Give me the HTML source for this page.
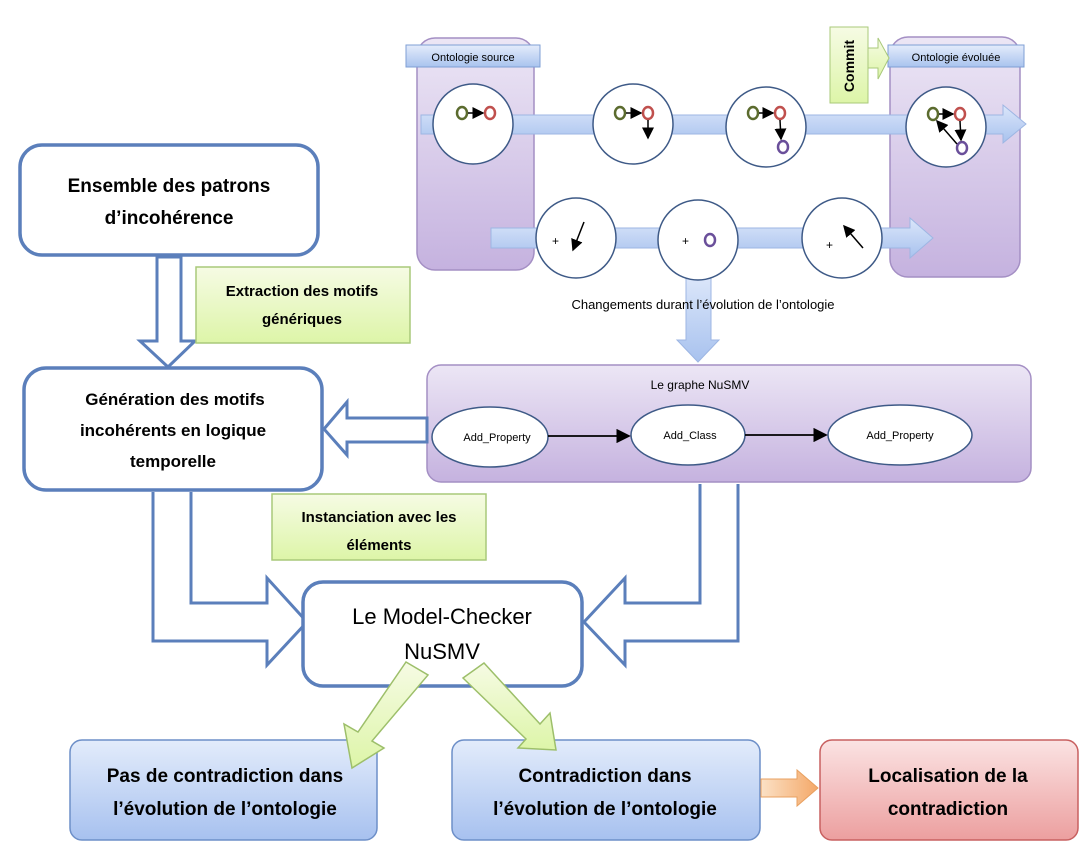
<!DOCTYPE html>
<html><head><meta charset="utf-8"><style>
html,body{margin:0;padding:0;background:#fff;}
svg{display:block;font-family:"Liberation Sans",sans-serif;}
.b{font-weight:bold;}
</style></head><body>
<svg width="1086" height="856" viewBox="0 0 1086 856" xmlns="http://www.w3.org/2000/svg">
<defs>
<linearGradient id="pur" x1="0" y1="0" x2="0" y2="1"><stop offset="0" stop-color="#ece6f5"/><stop offset="1" stop-color="#c5b2df"/></linearGradient>
<linearGradient id="hdr" x1="0" y1="0" x2="0" y2="1"><stop offset="0" stop-color="#e4ecfb"/><stop offset="1" stop-color="#a9c3ee"/></linearGradient>
<linearGradient id="band" x1="0" y1="0" x2="0" y2="1"><stop offset="0" stop-color="#dbe6fa"/><stop offset="1" stop-color="#a8c2ee"/></linearGradient>
<linearGradient id="grn" x1="0" y1="0" x2="0" y2="1"><stop offset="0" stop-color="#f6fbe4"/><stop offset="1" stop-color="#ddf5a8"/></linearGradient>
<linearGradient id="blu" x1="0" y1="0" x2="0" y2="1"><stop offset="0" stop-color="#e3ecfb"/><stop offset="1" stop-color="#a7c1ef"/></linearGradient>
<linearGradient id="red" x1="0" y1="0" x2="0" y2="1"><stop offset="0" stop-color="#fbe3e3"/><stop offset="1" stop-color="#ec9f9f"/></linearGradient>
<linearGradient id="org" x1="0" y1="0" x2="1" y2="0"><stop offset="0" stop-color="#fbe1c6"/><stop offset="1" stop-color="#f4a868"/></linearGradient>
<marker id="ah" markerWidth="8" markerHeight="8" refX="7" refY="4" orient="auto"><path d="M0,0 L8,4 L0,8 Z" fill="#000"/></marker>
</defs>

<!-- purple columns -->
<rect x="417" y="38" width="117" height="232" rx="18" fill="url(#pur)" stroke="#a48fc4" stroke-width="1.5"/>
<rect x="890" y="37" width="130" height="240" rx="18" fill="url(#pur)" stroke="#a48fc4" stroke-width="1.5"/>
<rect x="406" y="45" width="134" height="22" fill="url(#hdr)" stroke="#7f9fd4"/>
<text x="473" y="61" font-size="11" text-anchor="middle">Ontologie source</text>
<rect x="888" y="45" width="136" height="22" fill="url(#hdr)" stroke="#7f9fd4"/>
<text x="956" y="61" font-size="11" text-anchor="middle">Ontologie évoluée</text>
<!-- commit -->
<path d="M868,48 L878,48 L878,38 L889,58 L878,79 L878,68 L868,68 Z" fill="url(#grn)" stroke="#a9c97a"/>
<rect x="830" y="27" width="38" height="76" fill="url(#grn)" stroke="#a9c97a"/>
<text transform="translate(854,66) rotate(-90)" font-size="14" class="b" text-anchor="middle">Commit</text>

<!-- bands -->
<path d="M421,115 L1003,115 L1003,105 L1026,124 L1003,143 L1003,134 L421,134 Z" fill="url(#band)" stroke="#9db6e3"/>
<path d="M491,228 L910,228 L910,218 L933,238 L910,258 L910,248 L491,248 Z" fill="url(#band)" stroke="#9db6e3"/>
<path d="M686,278 L711,278 L711,340 L719,340 L698,362 L677,340 L686,340 Z" fill="url(#band)" stroke="#9db6e3"/>

<g fill="#fff" stroke="#3e5a87" stroke-width="1.5">
<circle cx="473" cy="124" r="40"/><circle cx="633" cy="124" r="40"/><circle cx="766" cy="127" r="40"/><circle cx="946" cy="127" r="40"/>
<circle cx="576" cy="238" r="40"/><circle cx="698" cy="240" r="40"/><circle cx="842" cy="238" r="40"/>
</g>
<g fill="none" stroke-width="2.5">
<ellipse cx="462" cy="113" rx="5" ry="6" stroke="#5b6b2e"/><ellipse cx="490" cy="113" rx="5" ry="6" stroke="#c0504d"/>
<ellipse cx="620" cy="113" rx="5" ry="6" stroke="#5b6b2e"/><ellipse cx="648" cy="113" rx="5" ry="6" stroke="#c0504d"/>
<ellipse cx="753" cy="113" rx="5" ry="6" stroke="#5b6b2e"/><ellipse cx="780" cy="113" rx="5" ry="6" stroke="#c0504d"/><ellipse cx="783" cy="147" rx="5" ry="6" stroke="#6a4f9a"/>
<ellipse cx="933" cy="114" rx="5" ry="6" stroke="#5b6b2e"/><ellipse cx="960" cy="114" rx="5" ry="6" stroke="#c0504d"/><ellipse cx="962" cy="148" rx="5" ry="6" stroke="#6a4f9a"/>
<ellipse cx="710" cy="240" rx="5" ry="6" stroke="#6a4f9a"/>
</g>
<g stroke="#000" stroke-width="1.5" marker-end="url(#ah)">
<line x1="468" y1="113" x2="483" y2="113"/>
<line x1="626" y1="113" x2="641" y2="113"/><line x1="648" y1="120" x2="648" y2="138"/>
<line x1="759" y1="113" x2="773" y2="113"/><line x1="780" y1="120" x2="781" y2="139"/>
<line x1="939" y1="114" x2="953" y2="114"/><line x1="960" y1="121" x2="961" y2="140"/><line x1="957" y1="144" x2="937" y2="121"/>
<line x1="584" y1="222" x2="573" y2="250"/><line x1="863" y1="248" x2="844" y2="226"/>
</g>
<g font-size="12"><text x="552" y="245">+</text><text x="682" y="245">+</text><text x="826" y="249">+</text></g>
<text x="703" y="309" font-size="13" text-anchor="middle">Changements durant l’évolution de l’ontologie</text>

<!-- NuSMV graph -->
<rect x="427" y="365" width="604" height="117" rx="14" fill="url(#pur)" stroke="#a48fc4" stroke-width="1.5"/>
<text x="700" y="389" font-size="12" text-anchor="middle">Le  graphe NuSMV</text>
<g fill="#fff" stroke="#3e5a87" stroke-width="1.5">
<ellipse cx="490" cy="437" rx="58" ry="30"/><ellipse cx="688" cy="435" rx="57" ry="30"/><ellipse cx="900" cy="435" rx="72" ry="30"/>
</g>
<g stroke="#000" stroke-width="1.8" marker-end="url(#ah)"><line x1="548" y1="436" x2="629" y2="436"/><line x1="745" y1="435" x2="826" y2="435"/></g>
<g font-size="11" text-anchor="middle"><text x="497" y="441">Add_Property</text><text x="690" y="439">Add_Class</text><text x="900" y="439">Add_Property</text></g>

<!-- left boxes -->
<g fill="#fff" stroke="#5b7fbb" stroke-width="3.5">
<rect x="20" y="145" width="298" height="110" rx="22"/>
<rect x="24" y="368" width="298" height="122" rx="22"/>
<path d="M157,257 L181,257 L181,341 L195,341 L168,367 L140,341 L157,341 Z" stroke-width="3"/>
<path d="M427,418 L347,418 L347,402 L324,429 L347,455 L347,442 L427,442 Z" stroke-width="3"/>
<path d="M191,492 L191,603 L267,603 L267,578 L307,622 L267,665 L267,641 L153,641 L153,492" stroke-width="3"/>
<path d="M700,484 L700,603 L625,603 L625,578 L584,622 L625,665 L625,641 L738,641 L738,484" stroke-width="3"/>
<rect x="303" y="582" width="279" height="104" rx="20"/>
</g>
<g class="b" font-size="19" text-anchor="middle">
<text x="169" y="192">Ensemble des patrons</text><text x="169" y="224">d’incohérence</text>
</g>
<g class="b" font-size="17" text-anchor="middle">
<text x="175" y="405">Génération des motifs</text><text x="173" y="436">incohérents en logique</text><text x="173" y="467">temporelle</text>
</g>
<text x="442" y="624" font-size="22" text-anchor="middle">Le Model-Checker</text>
<text x="442" y="659" font-size="22" text-anchor="middle">NuSMV</text>

<!-- green labels -->
<rect x="196" y="267" width="214" height="76" fill="url(#grn)" stroke="#a9c97a" stroke-width="1.5"/>
<text x="302" y="296" font-size="15" class="b" text-anchor="middle">Extraction des motifs</text>
<text x="302" y="324" font-size="15" class="b" text-anchor="middle">génériques</text>
<rect x="272" y="494" width="214" height="66" fill="url(#grn)" stroke="#a9c97a" stroke-width="1.5"/>
<text x="379" y="522" font-size="15" class="b" text-anchor="middle">Instanciation avec les</text>
<text x="379" y="550" font-size="15" class="b" text-anchor="middle">éléments</text>

<!-- bottom boxes -->
<rect x="70" y="740" width="307" height="100" rx="12" fill="url(#blu)" stroke="#6d8fc8" stroke-width="1.5"/>
<rect x="452" y="740" width="308" height="100" rx="12" fill="url(#blu)" stroke="#6d8fc8" stroke-width="1.5"/>
<rect x="820" y="740" width="258" height="100" rx="12" fill="url(#red)" stroke="#c86060" stroke-width="1.5"/>
<path d="M761,779 L797,779 L797,770 L818,788 L797,806 L797,797 L761,797 Z" fill="url(#org)" stroke="#e8a060"/>

<!-- green arrows -->
<path d="M406,662 L428,675 L372,741 L384,748 L352,768 L344,724 L358,732 Z" fill="url(#grn)" stroke="#9dbf6a" stroke-width="1.5"/>
<path d="M463,678 L484,663 L540,724 L550,713 L556,750 L518,748 L526,739 Z" fill="url(#grn)" stroke="#9dbf6a" stroke-width="1.5"/>

<g class="b" font-size="19" text-anchor="middle">
<text x="225" y="782">Pas de contradiction dans</text><text x="225" y="815">l’évolution de l’ontologie</text>
<text x="605" y="782">Contradiction dans</text><text x="605" y="815">l’évolution de l’ontologie</text>
<text x="948" y="782">Localisation de la</text><text x="948" y="815">contradiction</text>
</g>
</svg>
</body></html>
